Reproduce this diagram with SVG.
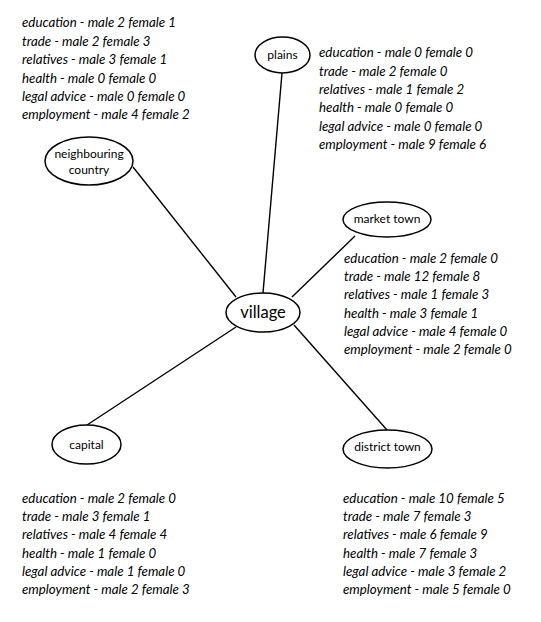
<svg xmlns="http://www.w3.org/2000/svg" width="541" height="622" viewBox="0 0 541 622">
<style>
.bg{fill:#ffffff}
.node ellipse{fill:#ffffff;stroke:#000000;stroke-width:1.5}
.lbl{font-family:"Lato","Open Sans","DejaVu Sans",sans-serif;font-size:12px;fill:#000;text-anchor:middle}
.big{font-size:16.5px}
.data{font-family:"Lato","Open Sans","DejaVu Sans",sans-serif;font-style:italic;font-size:13.3px;fill:#000}
#connectors line{stroke:#000;stroke-width:1.4}
</style>
<rect class="bg" x="0" y="0" width="541" height="622"/>
<g id="connectors">
<line x1="282" y1="73" x2="263" y2="293"/>
<line x1="355" y1="236" x2="292" y2="297"/>
<line x1="133" y1="167" x2="236" y2="297"/>
<line x1="236" y1="327" x2="87" y2="425"/>
<line x1="294" y1="325" x2="387" y2="430"/>
</g>
<g id="plains" class="node">
<ellipse cx="282.5" cy="55" rx="27.5" ry="18"/>
<text class="lbl" x="282.5" y="59">plains</text>
</g>
<g id="village" class="node">
<ellipse cx="263" cy="312.5" rx="37" ry="19.5"/>
<text class="lbl big" x="263" y="318">village</text>
</g>
<g id="market-town" class="node">
<ellipse cx="387" cy="219.5" rx="44" ry="17.5"/>
<text class="lbl" x="387" y="223">market town</text>
</g>
<g id="neighbouring-country" class="node">
<ellipse cx="89" cy="161" rx="44" ry="24"/>
<text class="lbl" x="89" y="158">neighbouring</text>
<text class="lbl" x="89" y="173.5">country</text>
</g>
<g id="capital" class="node">
<ellipse cx="86.5" cy="444.5" rx="34.5" ry="19.5"/>
<text class="lbl" x="86.5" y="449">capital</text>
</g>
<g id="district-town" class="node">
<ellipse cx="387.5" cy="449" rx="44.5" ry="19"/>
<text class="lbl" x="387.5" y="451">district town</text>
</g>
<g id="neighbouring-data" class="data">
<text x="22" y="27">education - male 2 female 1</text>
<text x="22" y="45.5">trade - male 2 female 3</text>
<text x="22" y="64">relatives - male 3 female 1</text>
<text x="22" y="82.5">health - male 0 female 0</text>
<text x="22" y="101">legal advice - male 0 female 0</text>
<text x="22" y="119">employment - male 4 female 2</text>
</g>
<g id="plains-data" class="data">
<text x="319" y="57.3">education - male 0 female 0</text>
<text x="319" y="75.7">trade - male 2 female 0</text>
<text x="319" y="94">relatives - male 1 female 2</text>
<text x="319" y="112.3">health - male 0 female 0</text>
<text x="319" y="130.7">legal advice - male 0 female 0</text>
<text x="319" y="149">employment - male 9 female 6</text>
</g>
<g id="market-data" class="data">
<text x="344" y="262.7">education - male 2 female 0</text>
<text x="344" y="281">trade - male 12 female 8</text>
<text x="344" y="299.3">relatives - male 1 female 3</text>
<text x="344" y="317.7">health - male 3 female 1</text>
<text x="344" y="335.8">legal advice - male 4 female 0</text>
<text x="344" y="354">employment - male 2 female 0</text>
</g>
<g id="capital-data" class="data">
<text x="22" y="502.7">education - male 2 female 0</text>
<text x="22" y="521">trade - male 3 female 1</text>
<text x="22" y="539.3">relatives - male 4 female 4</text>
<text x="22" y="557.7">health - male 1 female 0</text>
<text x="22" y="576">legal advice - male 1 female 0</text>
<text x="22" y="594.3">employment - male 2 female 3</text>
</g>
<g id="district-data" class="data">
<text x="343" y="502.7">education - male 10 female 5</text>
<text x="343" y="521">trade - male 7 female 3</text>
<text x="343" y="539.3">relatives - male 6 female 9</text>
<text x="343" y="557.7">health - male 7 female 3</text>
<text x="343" y="576">legal advice - male 3 female 2</text>
<text x="343" y="594.3">employment - male 5 female 0</text>
</g>
</svg>
